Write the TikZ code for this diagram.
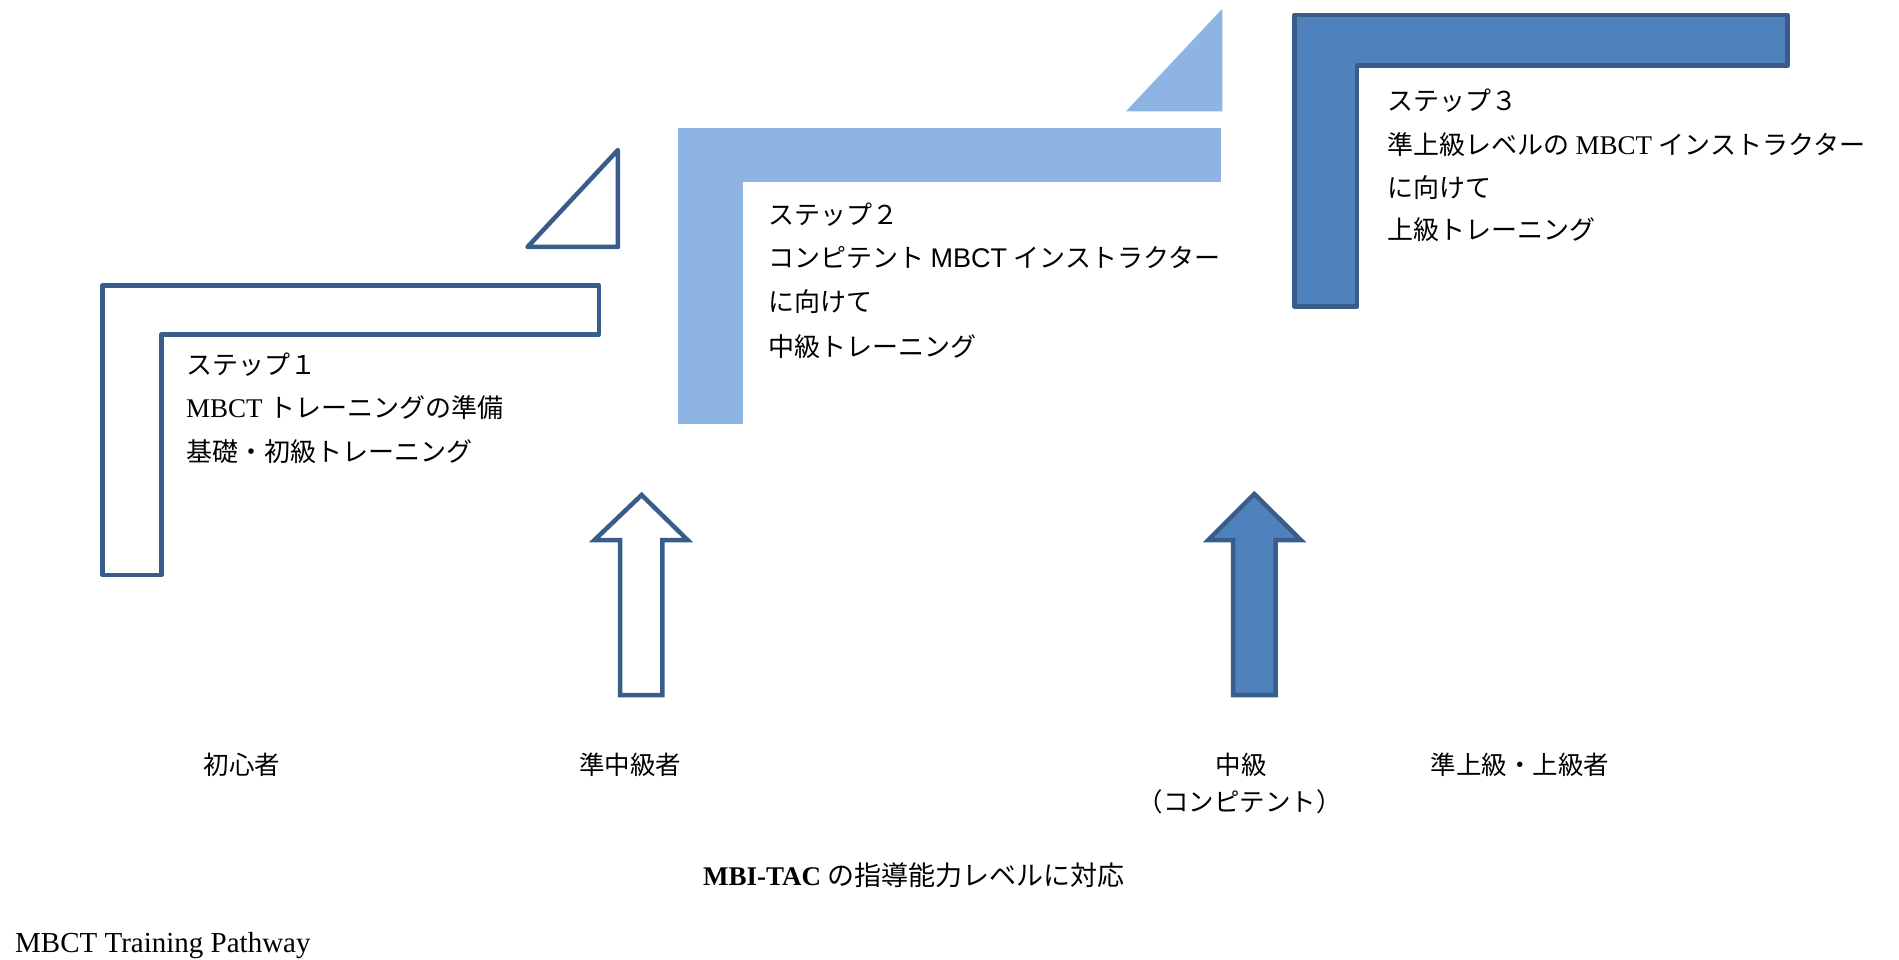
\documentclass[tikz,border=0pt]{standalone}
\usepackage{fontspec}
\setmainfont{Liberation Serif}
\newfontfamily\jp{Noto Sans CJK JP}
\newfontfamily\lsans{Liberation Sans}
\definecolor{darkstroke}{HTML}{385D8A}
\definecolor{midblue}{HTML}{4F81BD}
\definecolor{lightblue}{HTML}{8EB4E3}
\newcommand{\lat}[1]{{\fontsize{27}{30}\selectfont #1}}
\tikzset{
  outlineshape/.style={draw=darkstroke, line width=4.5pt, fill=white, line join=round},
  lightshape/.style={fill=lightblue, draw=lightblue, line width=1pt, line join=round},
  darkshape/.style={draw=darkstroke, line width=4.5pt, fill=midblue, line join=round},
  arrowwhite/.style={draw=darkstroke, line width=4.5pt, fill=white, line join=miter},
  arrowblue/.style={draw=darkstroke, line width=4.5pt, fill=midblue, line join=miter},
  steptext/.style={anchor=base west, inner sep=0pt, font=\fontsize{26}{30}\selectfont},
  leveltext/.style={anchor=base, inner sep=0pt, font=\fontsize{25.5}{30}\selectfont},
}
\begin{document}
\begin{tikzpicture}[x=1pt, y=-1pt]
\useasboundingbox (0,0) rectangle (1899,960);

% Step 1 shapes
\draw[outlineshape] (102.5,285.7) -- (599,285.7) -- (599,334.3) -- (161.4,334.3) -- (161.4,575) -- (102.5,575) -- cycle;
\draw[outlineshape] (617.9,150) -- (617.9,247) -- (527.5,247) -- cycle;

% Step 2 shapes
\draw[lightshape] (678,128.3) -- (1220.7,128.3) -- (1220.7,181.7) -- (742.3,181.7) -- (742.3,423.3) -- (678,423.3) -- cycle;
\draw[lightshape] (1221.8,10) -- (1221.8,111) -- (1126.9,111) -- cycle;

% Step 3 shape
\draw[darkshape] (1294.6,15) -- (1787.3,15) -- (1787.3,65.7) -- (1357,65.7) -- (1357,306.7) -- (1294.6,306.7) -- cycle;

% Arrows
\draw[arrowwhite] (641.6,495) -- (687.6,540) -- (662.4,540) -- (662.4,695) -- (620.2,695) -- (620.2,540) -- (594.5,540) -- cycle;
\draw[arrowblue] (1254.3,494) -- (1300.8,540) -- (1275.6,540) -- (1275.6,695) -- (1233,695) -- (1233,540) -- (1208.2,540) -- cycle;

% Step 1 text
\node[steptext] (s1a) at (186,374.5) {\jp ステップ１};
\node[steptext] (s1b) at (186,417.5) {\lat{MBCT} {\jp トレーニングの準備}};
\node[steptext] (s1c) at (186,461.5) {\jp 基礎・初級トレーニング};

% Step 2 text
\node[steptext] (s2a) at (768,224.5) {\jp ステップ２};
\node[steptext] (s2b) at (768,267.5) {{\jp コンピテント} \lat{\lsans MBCT} {\jp インストラクター}};
\node[steptext] (s2c) at (768,311.5) {\jp に向けて};
\node[steptext] (s2d) at (768,356.5) {\jp 中級トレーニング};

% Step 3 text
\node[steptext] (s3a) at (1387,111) {\jp ステップ３};
\node[steptext] (s3b) at (1387,154.5) {{\jp 準上級レベルの} \lat{MBCT} {\jp インストラクター}};
\node[steptext] (s3c) at (1387,197.5) {\jp に向けて};
\node[steptext] (s3d) at (1387,239.5) {\jp 上級トレーニング};

% Level labels
\node[leveltext] (l1) at (242,774.5) {\jp 初心者};
\node[leveltext] (l2) at (630,774.5) {\jp 準中級者};
\node[leveltext] (l3) at (1241,774.5) {\jp 中級};
\node[leveltext] (l3b) at (1239.5,811.5) {\jp （コンピテント）};
\node[leveltext] (l4) at (1520,774.5) {\jp 準上級・上級者};

% Caption
\node[anchor=base, inner sep=0pt, font=\fontsize{27}{30}\selectfont] (cap) at (914,885) {{\bfseries MBI-TAC }{\jp の指導能力レベルに対応}};
\node[anchor=base west, inner sep=0pt, font=\fontsize{29}{32}\selectfont] (title) at (15,952) {MBCT Training Pathway};
\end{tikzpicture}
\end{document}
